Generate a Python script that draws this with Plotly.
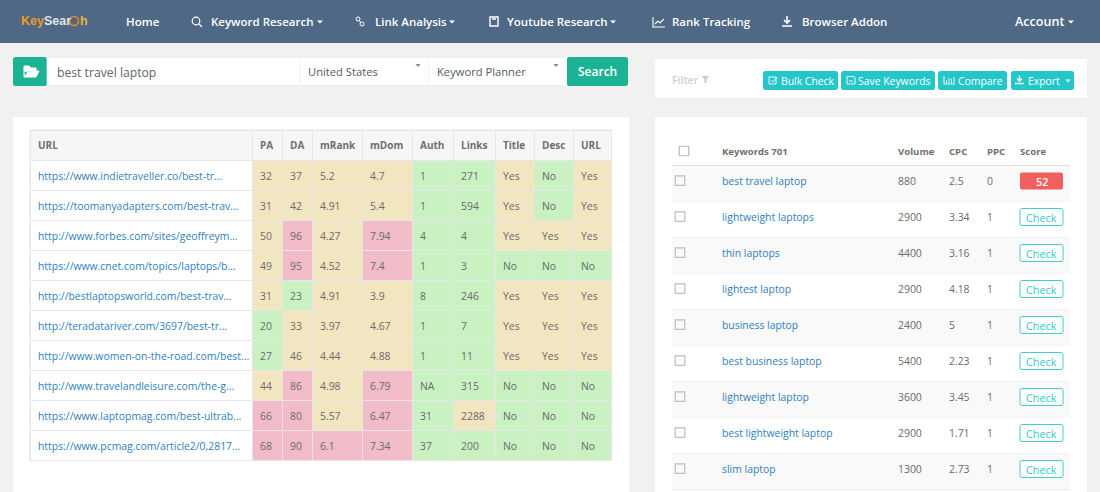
import plotly.graph_objects as go

# ---------- data ----------
urls = ["https://www.indietraveller.co/best-tr...", "https://toomanyadapters.com/best-trav...",
        "http://www.forbes.com/sites/geoffreym...", "https://www.cnet.com/topics/laptops/b...",
        "http://bestlaptopsworld.com/best-trav...", "http://teradatariver.com/3697/best-tr...",
        "http://www.women-on-the-road.com/best...", "http://www.travelandleisure.com/the-g...",
        "https://www.laptopmag.com/best-ultrab...", "https://www.pcmag.com/article2/0,2817..."]
pa = [32, 31, 50, 49, 31, 20, 27, 44, 66, 68]
da = [37, 42, 96, 95, 23, 33, 46, 86, 80, 90]
mrank = [5.2, 4.91, 4.27, 4.52, 4.91, 3.97, 4.44, 4.98, 5.57, 6.1]
mdom = [4.7, 5.4, 7.94, 7.4, 3.9, 4.67, 4.88, 6.79, 6.47, 7.34]
auth = [1, 1, 4, 1, 8, 1, 1, "NA", 31, 37]
links = [271, 594, 4, 3, 246, 7, 11, 315, 2288, 200]
title_ok = ["Yes", "Yes", "Yes", "No", "Yes", "Yes", "Yes", "No", "No", "No"]
desc_ok = ["No", "No", "Yes", "No", "Yes", "Yes", "Yes", "No", "No", "No"]
url_ok = ["Yes", "Yes", "Yes", "No", "Yes", "Yes", "Yes", "No", "No", "No"]
left_headers = ["URL", "PA", "DA", "mRank", "mDom", "Auth", "Links", "Title", "Desc", "URL"]

keywords = ["best travel laptop", "lightweight laptops", "thin laptops", "lightest laptop", "business laptop",
            "best business laptop", "lightweight laptop", "best lightweight laptop", "slim laptop"]
volume = [880, 2900, 4400, 2900, 2400, 5400, 3600, 2900, 1300]
cpc = [2.5, 3.34, 3.16, 4.18, 5, 2.23, 3.45, 1.71, 2.73]
ppc = [0, 1, 1, 1, 1, 1, 1, 1, 1]
score = [52, None, None, None, None, None, None, None, None]
right_headers = ["Keywords 701", "Volume", "CPC", "PPC", "Score"]
nav_items = ["Home", "Keyword Research", "Link Analysis", "Youtube Research", "Rank Tracking", "Browser Addon", "Account"]
tool_buttons = ["Bulk Check", "Save Keywords", "Compare", "Export"]

# ---------- styles ----------
FONT = "Open Sans"
TXT, LINK = "#6a6a6a", "#2f7fbd"
GREEN, YELLOW, RED = "#c9f1c2", "#f2e6c1", "#f1bcc7"
NAV, PAGE, TEAL, CYAN = "#4e6885", "#f1f1f1", "#1cb394", "#25c6c9"
W, H = 1100, 492
WHITE_L, GREEN_L, YELLOW_L, RED_L, HEAD_L = 0, 1, 2, 3, 4


def tier(v, low, high):
    return GREEN_L if v < low else (YELLOW_L if v <= high else RED_L)


yn = lambda v: YELLOW_L if v == "Yes" else GREEN_L
level_cols = [[WHITE_L] * len(urls),
              [tier(v, 30, 60) for v in pa], [tier(v, 30, 60) for v in da],
              [tier(v, 3, 6) for v in mrank], [tier(v, 3, 6) for v in mdom],
              [GREEN_L for _ in auth], [tier(v, 1000, 5000) for v in links],
              [yn(v) for v in title_ok], [yn(v) for v in desc_ok], [yn(v) for v in url_ok]]
text_cols = [urls, pa, da, mrank, mdom, auth, links, title_ok, desc_ok, url_ok]
edges = [30, 252, 282, 312, 362, 412, 453, 495, 534, 573, 611]
T_TOP, T_HEAD, T_ROW = 130, 30, 30
row_edges = [T_TOP] + [T_TOP + T_HEAD + i * T_ROW for i in range(len(urls) + 1)]

fig = go.Figure()
shapes, notes = [], []


def rect(x0, y0, x1, y1, fill, line=None, lw=1, layer="below"):
    shapes.append(dict(type="rect", x0=x0, y0=y0, x1=x1, y1=y1, fillcolor=fill, layer=layer,
                       line=dict(color=line or fill, width=lw if line else 0)))


def rrect(x0, y0, x1, y1, fill, line=None, r=2.5, lw=1):
    p = (f"M{x0 + r},{y0} L{x1 - r},{y0} Q{x1},{y0} {x1},{y0 + r} L{x1},{y1 - r} Q{x1},{y1} {x1 - r},{y1} "
         f"L{x0 + r},{y1} Q{x0},{y1} {x0},{y1 - r} L{x0},{y0 + r} Q{x0},{y0} {x0 + r},{y0} Z")
    shapes.append(dict(type="path", path=p, fillcolor=fill, layer="below",
                       line=dict(color=line or fill, width=lw if line else 0)))


def path(p, fill="rgba(0,0,0,0)", line="#ffffff", lw=1.2):
    shapes.append(dict(type="path", path=p, fillcolor=fill, layer="above",
                       line=dict(color=line, width=lw)))


def ring(cx, cy, r, line="#ffffff", lw=1.2):
    shapes.append(dict(type="circle", x0=cx - r, x1=cx + r, y0=cy - r, y1=cy + r,
                       fillcolor="rgba(0,0,0,0)", layer="above", line=dict(color=line, width=lw)))


def caret(x, y, c="#ffffff", s=3):
    shapes.append(dict(type="path", path=f"M{x - s},{y - 1.5} L{x + s},{y - 1.5} L{x},{y + 1.5} Z",
                       fillcolor=c, line=dict(width=0), layer="above"))


def label(x, y, t, c=TXT, size=10.5, anchor="left", family=FONT, weight=None):
    f = dict(family=family, size=size, color=c)
    if weight:
        f["weight"] = weight
    pad = -2 if anchor == "left" else 0
    notes.append(dict(x=x + pad, y=y, text=t, showarrow=False, xanchor=anchor, yanchor="middle",
                      xref="x", yref="y", font=f))


# page frame
rect(0, 0, W, H, PAGE)
rect(0, 0, W, 43, NAV)
rect(13, 117, 629, H, "#ffffff")
rect(655, 59, 1087, 98, "#ffffff")
rect(655, 117, 1087, H, "#ffffff")

# navigation
nav_x = [126, 211, 375, 507, 672, 802, 1015]
for x, t in zip(nav_x, nav_items):
    label(x, 21.5, t, "#ffffff", 12.6 if t == "Account" else 11.5, weight=600)
for x in (320, 452, 613, 1071):
    caret(x, 22)
LOGO = "Liberation Sans"
label(21, 21, "<span style='color:#ee9a23'>Key</span><span style='color:#dfe3e7'>Sear</span>", "#ee9a23", 12.5,
      family=LOGO, weight=700)
ring(74, 21, 4.5, "#ee8a23", 1.6)
label(80, 21, "<span style='color:#f2b23c'>h</span>", "#f2b23c", 12.5, family=LOGO, weight=700)
# nav icons
ring(196, 21, 3.8)
path("M199,24 L202,27")
ring(358, 19, 2, lw=1)
ring(362, 24, 2, lw=1)
path("M359.5,20.5 L360.5,22.5", lw=1)
path("M490,17 L498,17 L498,26 L490,26 Z M492,19 L496,19", lw=1.4)
path("M653,17 L653,27 L665,27 M655,24 L658,21 L660,23 L664,19", lw=1.1)
path("M787,16 L787,23 M784,20 L787,23 L790,20 M782,26 L792,26", lw=1.6)

# search bar
rrect(13, 57, 47, 86, TEAL)
rect(47, 57.5, 567, 85.5, "#ffffff", "#eaeaea", 0.7)
shapes.append(dict(type="line", x0=300, x1=300, y0=58, y1=85, line=dict(color="#eeeeee", width=1), layer="below"))
shapes.append(dict(type="line", x0=429, x1=429, y0=58, y1=85, line=dict(color="#f3f3f3", width=1), layer="below"))
rrect(567, 57, 628, 86, TEAL)
path("M24,72 L24,77 L36,77 L39,71 L28,71 L25,77 M24,72 L24,66 L29,66 L31,68 L36,68 L36,71",
     fill="#ffffff", lw=1)
label(57, 72, "best travel laptop", "#5f6670", 12.2)
label(308, 71.5, "United States", "#555b63", 11.2)
label(437, 71.5, "Keyword Planner", "#555b63", 11.2)
caret(418, 65.5, "#8e8e8e", 2.6)
caret(556, 65.5, "#8e8e8e", 2.6)
label(597.5, 71, "Search", "#ffffff", 12, "center", weight=600)

# tool row
label(672, 79.5, "Filter", "#cfcfcf", 10.5, weight=600)
shapes.append(dict(type="path", path="M702,76 L709,76 L706.5,79.5 L706.5,83 L704.5,83 L704.5,79.5 Z",
                   fillcolor="#c9c9c9", line=dict(width=0), layer="above"))
btn_edges = [(763, 838), (841, 935), (938, 1007), (1011, 1074)]
btn_text_x = [781, 858, 958, 1028]
for (a, b), x, t in zip(btn_edges, btn_text_x, tool_buttons):
    rrect(a, 71, b, 90, CYAN)
    label(x, 80.5, t, "#ffffff", 10.4, weight=500)
path("M769,77 L776,77 L776,84 L769,84 Z M771,80 L773,82 L777,77", lw=0.9)
path("M847,76.5 L854,76.5 L855,78 L855,84 L847,84 Z M849,81 L853,81", lw=0.9)
path("M944,76 L944,84 L955,84 M946.5,83 L946.5,80 M949,83 L949,78 M951.5,83 L951.5,79 M954,83 L954,77", lw=0.9)
path("M1019.5,75.5 L1019.5,81 M1017,78.5 L1019.5,81 L1022,78.5 M1015,83.5 L1024,83.5", lw=1.3)
caret(1068, 81, "#ffffff", 2.5)

# left table: cells as a heatmap with gaps showing the border colour underneath
CELL_NUDGE = 1
rect(edges[0] - 0.5, T_TOP - 0.5, edges[-1] + 1, row_edges[-1] + 1, "#e6e6e6")
z = [[HEAD_L] * len(level_cols)] + [[col[r] for col in level_cols] for r in range(len(urls))]
stops = [WHITE_L, GREEN_L, YELLOW_L, RED_L, HEAD_L]
cols = ["#ffffff", GREEN, YELLOW, RED, "#f6f6f6"]
scale = []
for s, c in zip(stops, cols):
    scale += [[max(s - 0.5, 0) / 4, c], [min(s + 0.5, 4) / 4, c]]
fig.add_trace(go.Heatmap(x=[e + CELL_NUDGE for e in edges], y=[e + CELL_NUDGE for e in row_edges], z=z,
                         zmin=0, zmax=4, colorscale=scale, showscale=False,
                         xgap=1, ygap=1, hoverinfo="skip"))
text_x = [e + 8 for e in edges[:-1]]
head_y = T_TOP + T_HEAD / 2 + 1.5
cell_y = [T_TOP + T_HEAD + (i + 0.52) * T_ROW + 2 for i in range(len(urls))]
fig.add_trace(go.Scatter(x=text_x, y=[head_y] * len(text_x), mode="text", text=left_headers,
                         textposition="middle right", hoverinfo="skip", showlegend=False,
                         textfont=dict(family=FONT, size=10, color="#6f6f6f", weight=700)))
for x, col in zip(text_x, text_cols):
    fig.add_trace(go.Scatter(x=[x] * len(col), y=cell_y, mode="text", text=[str(v) for v in col],
                             textposition="middle right", hoverinfo="skip", showlegend=False,
                             textfont=dict(family=FONT, size=10.4, color=LINK if col is urls else TXT)))

# right table
R_X0, R_X1, R_TOP, R_ROW = 672, 1070, 165.5, 36
for i in range(len(keywords)):
    y0 = R_TOP + i * R_ROW
    rect(R_X0, y0, R_X1, y0 + R_ROW, "#f9f9f9" if i % 2 == 0 else "#ffffff")
    shapes.append(dict(type="line", x0=R_X0, x1=R_X1, y0=y0 + R_ROW, y1=y0 + R_ROW,
                       line=dict(color="#ececec", width=1), layer="below"))
shapes.append(dict(type="line", x0=R_X0, x1=R_X1, y0=R_TOP, y1=R_TOP,
                   line=dict(color="#dfdfdf", width=1.2), layer="below"))
for x, t in zip([722, 898, 949, 987, 1020], right_headers):
    label(x, 151, t, "#6f6f6f", 9.6, weight=700)
rows_y = [R_TOP + (i + 0.45) * R_ROW for i in range(len(keywords))]
for x, c, col in [(722, LINK, keywords), (898, TXT, volume), (949, TXT, cpc), (987, TXT, ppc)]:
    fig.add_trace(go.Scatter(x=[x] * len(col), y=[y + 1 for y in rows_y], mode="text", text=[str(v) for v in col],
                             textposition="middle right", hoverinfo="skip", showlegend=False,
                             textfont=dict(family=FONT, size=10.4, color=c)))
fig.add_trace(go.Scatter(x=[680] * len(keywords) + [684], y=[y - 1 for y in rows_y] + [151], mode="markers",
                         marker=dict(symbol="square-open", size=9.5, color="#bdbdbd", line=dict(width=1.2, color="#bdbdbd")),
                         hoverinfo="skip", showlegend=False))
for y, s in zip(rows_y, score):
    if s is None:
        rrect(1020, y - 9.2, 1063, y + 7.8, "#ffffff", "#3fd0d0", 2, 1)
        label(1041.5, y - 0.5, "Check", "#35cccc", 10.8, "center")
    else:
        rrect(1020, y - 9.2, 1063, y + 7.8, "#f0605f", None, 2)
        label(1041.5, y - 0.5, str(s), "#ffffff", 10.8, "center", weight=600)

fig.update_layout(
    width=W, height=H, margin=dict(l=0, r=0, t=0, b=0), showlegend=False,
    paper_bgcolor=PAGE, plot_bgcolor=PAGE, shapes=shapes, annotations=notes,
    xaxis=dict(range=[0, W], visible=False, fixedrange=True),
    yaxis=dict(range=[H, 0], visible=False, fixedrange=True),
)
fig.write_html("out.html", config=dict(displayModeBar=False),
               post_script="document.body.style.margin='0';document.body.style.overflow='hidden';")
